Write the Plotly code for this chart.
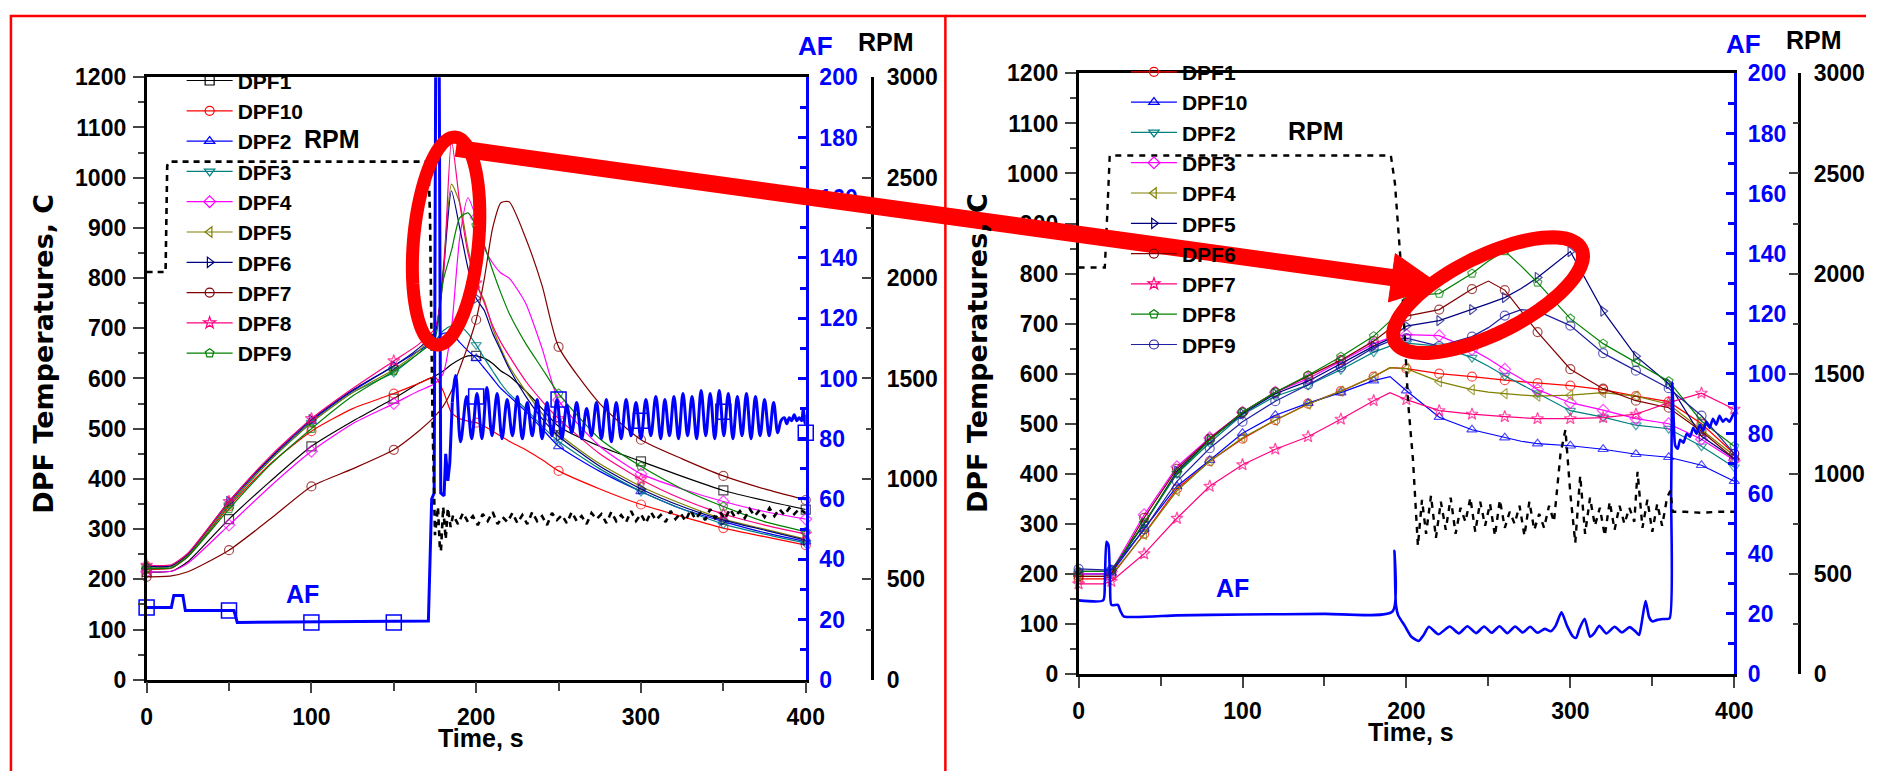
import math
import plotly.graph_objects as go

W, H = 1885, 771

# ---------------- data: left panel ----------------
tL = [0, 15, 25, 50, 75, 100, 125, 150, 165, 175, 180, 185, 190, 195, 200, 205, 210, 215, 220, 230,
      240, 250, 275, 300, 325, 350, 375, 400]
L_DPF1 = [215, 216, 235, 320, 395, 465, 515, 560, 590, 605, 615, 628, 638, 645, 645, 640, 630, 615, 605, 575, 540, 505, 465, 435, 405, 377, 357, 339]
L_DPF10 = [220, 222, 245, 345, 430, 495, 540, 570, 590, 603, 575, 532, 520, 515, 512, 505, 495, 485, 475, 458, 438, 416, 380, 349, 325, 302, 285, 268]
L_DPF2 = [225, 226, 248, 352, 440, 515, 575, 625, 655, 675, 690, 690, 672, 655, 640, 620, 600, 580, 565, 535, 500, 465, 415, 375, 340, 315, 293, 275]
L_DPF3 = [225, 226, 248, 348, 437, 512, 572, 612, 650, 675, 695, 705, 705, 690, 667, 640, 615, 590, 570, 540, 505, 475, 420, 375, 340, 310, 290, 272]
L_DPF4 = [215, 216, 232, 308, 385, 455, 510, 550, 575, 590, 610, 700, 880, 960, 920, 860, 830, 810, 800, 750, 660, 557, 465, 410, 380, 355, 335, 320]
L_DPF5 = [225, 226, 248, 350, 438, 513, 572, 618, 655, 690, 820, 987, 950, 860, 790, 755, 700, 660, 625, 575, 530, 490, 430, 385, 350, 320, 300, 280]
L_DPF6 = [226, 227, 250, 355, 442, 518, 577, 625, 660, 692, 810, 974, 900, 820, 760, 735, 690, 655, 620, 565, 520, 485, 425, 380, 345, 318, 298, 278]
L_DPF7 = [205, 207, 215, 258, 320, 385, 420, 458, 495, 525, 545, 575, 620, 665, 717, 800, 900, 950, 952, 880, 785, 663, 550, 478, 440, 406, 380, 358]
L_DPF8 = [228, 229, 252, 355, 445, 520, 580, 635, 668, 700, 800, 1075, 950, 850, 790, 750, 705, 672, 645, 595, 555, 520, 450, 399, 360, 330, 308, 290]
L_DPF9 = [222, 223, 245, 340, 428, 500, 565, 615, 650, 680, 795, 855, 920, 930, 905, 865, 815, 770, 730, 670, 620, 570, 480, 425, 380, 345, 315, 295]

af_l1_t = [0, 15, 16.5, 22, 23.5, 53, 55, 171, 173, 174.5, 175.5, 177.5, 178.5, 180.5, 181.5, 182.8, 184, 185.5]
af_l1_v = [24, 24, 28, 28, 23, 23, 19, 19.5, 60, 62, 215, 215, 62, 61, 75, 66, 72, 92]
af_l2_t = [185.5, 187.6, 190.5, 194.2, 197.3, 200.5, 203.5, 206.5, 209.6, 212.7, 215.7, 218.8, 222, 225, 228,
           231, 234, 237, 240, 243, 246, 249, 252, 255, 258, 261, 264, 267, 270, 273, 276, 279, 282, 285, 288,
           291, 294, 297, 300, 303, 306, 309, 312, 314.5, 317.3, 320, 322.8, 325.5, 328.3, 331, 333.8, 336.5,
           339.3, 342, 344.8, 347.5, 350.3, 353, 355.8, 358.5, 361.3, 364, 366.8, 369.5, 372.3, 375, 377.8,
           380.5, 383, 385, 387, 388.5, 390, 391.5, 393, 394.5, 396, 397.5, 398.5, 399.5, 400]
af_l2_v = [92, 101, 79, 94, 80, 95, 80, 97, 81, 95, 80, 93, 81, 94, 80, 92, 81, 93, 80, 92, 81, 93, 80, 91, 82,
           92, 80, 90, 81, 92, 80, 93, 79, 92, 80, 93, 81, 92, 80, 93, 81, 94, 80, 93, 81, 94, 80, 95, 81, 94,
           80, 96, 81, 95, 80, 96, 81, 95, 80, 94, 81, 95, 80, 94, 81, 93, 81, 92, 82, 86, 87, 85, 87, 86, 88,
           86, 87, 86, 90, 85, 88]
af_l_mark_t = [0, 50, 100, 150, 200, 250, 300, 350, 400]
af_l_mark_v = [24, 23, 19, 19, 94, 93, 86, 89, 82]

rpm_l_t = [0, 11.5, 12.5, 14, 171, 172, 173.5, 175, 176.8, 178, 178.6, 180, 181.5, 182.8, 184.5,
           186, 189, 192, 195, 198, 201, 204, 207, 210, 213, 216, 219, 222, 225, 228, 231, 234, 237, 240, 243,
           246, 249, 252, 255, 258, 261, 264, 267, 270, 273, 276, 279, 282, 285, 288, 291, 294, 297, 300, 303,
           306, 309, 312, 315, 318, 321, 324, 327, 330, 333, 336, 339, 342, 345, 348, 351, 354, 357, 360, 363,
           366, 369, 372, 375, 378, 381, 384, 387, 390, 393, 396, 400]
rpm_l_v = [2030, 2030, 2560, 2580, 2580, 2300, 1300, 720, 860, 650, 640, 860, 700, 855, 760,
           820, 775, 830, 785, 815, 770, 825, 790, 835, 775, 810, 785, 830, 780, 820, 775, 835, 790, 815, 770,
           830, 795, 820, 780, 835, 790, 815, 775, 830, 800, 825, 780, 835, 790, 820, 785, 840, 790, 825, 780,
           835, 795, 820, 785, 840, 800, 830, 790, 845, 800, 830, 795, 850, 805, 835, 800, 850, 810, 840, 805,
           850, 815, 845, 810, 855, 815, 850, 820, 855, 825, 850, 830]

# ---------------- data: right panel ----------------
tR = [0, 10, 15, 20, 40, 60, 80, 100, 120, 140, 160, 180, 190, 200, 220, 240, 250, 260, 270, 280,
      300, 320, 340, 360, 380, 400]
R_DPF1 = [190, 190, 190, 195, 280, 370, 425, 470, 507, 540, 565, 594, 612, 610, 600, 594, 590, 587, 584, 581, 576, 568, 555, 544, 500, 440]
R_DPF10 = [200, 200, 200, 202, 290, 375, 427, 481, 517, 541, 562, 586, 594, 566, 513, 488, 480, 472, 465, 460, 456, 449, 439, 433, 417, 385]
R_DPF2 = [200, 200, 200, 205, 300, 400, 462, 518, 555, 577, 608, 643, 655, 661, 655, 632, 615, 596, 578, 561, 526, 513, 497, 490, 455, 413]
R_DPF3 = [200, 200, 200, 205, 318, 414, 472, 523, 563, 590, 625, 660, 672, 678, 676, 648, 630, 609, 590, 568, 542, 527, 510, 500, 469, 427]
R_DPF4 = [195, 195, 195, 198, 279, 366, 425, 472, 507, 539, 565, 594, 612, 610, 584, 568, 563, 560, 557, 555, 557, 562, 555, 539, 488, 436]
R_DPF5 = [205, 205, 205, 207, 300, 405, 468, 520, 560, 585, 620, 655, 670, 695, 706, 728, 740, 752, 770, 792, 844, 725, 635, 580, 475, 430]
R_DPF6 = [195, 195, 195, 200, 312, 410, 470, 523, 563, 595, 627, 665, 690, 715, 728, 769, 785, 767, 725, 683, 609, 570, 546, 532, 485, 430]
R_DPF7 = [180, 180, 180, 185, 240, 311, 375, 418, 449, 474, 509, 546, 562, 548, 526, 519, 516, 514, 512, 510, 510, 512, 519, 542, 561, 529]
R_DPF8 = [205, 205, 205, 207, 302, 401, 467, 523, 563, 597, 634, 675, 705, 756, 760, 800, 825, 845, 815, 782, 710, 660, 622, 585, 505, 455]
R_DPF9 = [210, 208, 208, 208, 289, 385, 451, 504, 545, 578, 613, 652, 665, 671, 655, 674, 692, 716, 728, 725, 696, 641, 606, 571, 516, 440]

af_r_t = [0, 15, 16, 17, 18.2, 19.2, 20, 24, 25.5, 27.5, 60, 100, 150, 191.5, 192.7, 193.6, 195, 199, 203,
          207.5, 210.5, 213.7, 219.5, 226.4, 232, 237.2, 242.5, 247.4, 252, 256.8, 261.5, 266.3, 271, 275.5,
          280, 284.4, 288, 291, 294.6, 298, 301.5, 303.5, 305.5, 308.7, 312, 314.5, 317.6, 322, 327, 331.5,
          336.2, 340, 342, 343.5, 345.9, 348, 350, 353, 357, 360.5, 361.5, 362.2, 363, 364, 365.5, 367, 369,
          371, 373, 375, 377, 379, 381, 383, 385, 387, 389, 391, 393, 395, 397, 399, 400]
af_r_v = [24.5, 24.5, 30, 44, 43, 30, 23, 23, 21, 19.2, 19.5, 19.8, 20, 20.8, 41, 23, 19.5, 16, 12.4, 11,
          13, 15.7, 13.2, 15.8, 13.5, 15.9, 13.6, 15.8, 13.7, 15.9, 13.6, 15.8, 13.8, 15.7, 13.7, 15, 14.2,
          16, 20.5, 16, 12.5, 12, 15, 18.4, 12.4, 13.5, 16, 13.5, 15.7, 13.8, 15.6, 14, 13, 17, 24.3, 19, 17.5,
          18, 18.3, 18.5, 60, 97, 85, 76, 75, 78, 77, 80, 79, 82, 80, 83, 81, 84, 82, 85, 83, 86, 84, 85, 84,
          86, 87]

rpm_r_t = [0, 16, 17.5, 19, 190.5, 193, 197, 201, 204, 207, 209.5, 212, 215, 218, 221, 224, 227, 230, 233,
           236, 239, 242, 245, 248, 251, 254, 257, 260, 263, 266, 269, 272, 275, 278, 281, 284, 287, 290, 294,
           297, 300, 303, 306, 309, 312, 315, 318, 321, 324, 327, 330, 333, 336, 339, 341, 344, 347, 350, 353,
           356, 359, 361, 362.5, 370, 380, 390, 400]
rpm_r_v = [2030, 2030, 2300, 2590, 2590, 2450, 2000, 1360, 1070, 640, 870, 700, 890, 680, 860, 720, 880,
           700, 830, 760, 880, 710, 860, 740, 850, 690, 870, 730, 810, 750, 840, 690, 860, 720, 800, 730, 840,
           760, 1100, 1220, 900, 655, 990, 700, 880, 740, 830, 690, 860, 720, 840, 750, 830, 760, 1010, 730,
           870, 710, 850, 740, 880, 915, 810, 810, 805, 810, 810]

x_ticks = [0, 100, 200, 300, 400]
names = ["DPF1", "DPF10", "DPF2", "DPF3", "DPF4", "DPF5", "DPF6", "DPF7", "DPF8", "DPF9"]

# ---------------- styles ----------------
left_style = [("#000000", "square-open"), ("#ff0000", "circle-open"), ("#0000ff", "triangle-up-open"),
              ("#008080", "triangle-down-open"), ("#ff00ff", "diamond-open"), ("#808000", "triangle-left-open"),
              ("#000080", "triangle-right-open"), ("#800000", "circle-open"), ("#ff0080", "star-open"),
              ("#008000", "pentagon-open")]
right_style = [("#ff0000", "circle-open"), ("#0000ff", "triangle-up-open"), ("#008080", "triangle-down-open"),
               ("#ff00ff", "diamond-open"), ("#808000", "triangle-left-open"), ("#000080", "triangle-right-open"),
               ("#800000", "circle-open"), ("#ff0080", "star-open"), ("#008000", "pentagon-open"),
               ("#2020a0", "circle-open")]

NARROW = "Liberation Sans Narrow, Arial Narrow, Liberation Sans, Arial, sans-serif"
SANS = "Liberation Sans, Arial, sans-serif"
WIDE = "DejaVu Sans, Verdana, sans-serif"
BLUE = "#0000ff"


def px(x):
    return x / W


def py(y):
    return 1 - y / H


fig = go.Figure()


def add_panel_series(tvals, datasets, styles, xa, ya, legend, step):
    for nm, vals, (col, sym) in zip(names, datasets, styles):
        sizes = [9 if t % step == 0 else 0 for t in tvals]
        line = dict(color=col, width=1.2)
        if step == 50:
            line.update(shape="spline", smoothing=0.6)
        fig.add_trace(go.Scatter(x=tvals, y=vals, name=nm, mode="lines+markers", xaxis=xa, yaxis=ya,
                                 line=line, showlegend=False,
                                 marker=dict(symbol=sym, size=sizes, color=col, line=dict(color=col, width=1.2)),
                                 cliponaxis=False))
        # legend entry (no data of its own)
        fig.add_trace(go.Scatter(x=[None], y=[None], name=nm, mode="lines+markers", xaxis=xa, yaxis=ya,
                                 line=dict(color=col, width=1.2), legend=legend,
                                 marker=dict(symbol=sym, size=9, color=col, line=dict(color=col, width=1.2))))


add_panel_series(tL, [L_DPF1, L_DPF10, L_DPF2, L_DPF3, L_DPF4, L_DPF5, L_DPF6, L_DPF7, L_DPF8, L_DPF9],
                 left_style, "x", "y", "legend", 50)

fig.add_trace(go.Scatter(x=af_l1_t, y=af_l1_v, mode="lines", xaxis="x", yaxis="y2", showlegend=False,
                         line=dict(color=BLUE, width=3)))
fig.add_trace(go.Scatter(x=af_l2_t, y=af_l2_v, mode="lines", xaxis="x", yaxis="y2", showlegend=False,
                         line=dict(color=BLUE, width=3, shape="spline", smoothing=1.0)))
fig.add_trace(go.Scatter(x=af_l_mark_t, y=af_l_mark_v, mode="markers", xaxis="x", yaxis="y2", showlegend=False,
                         marker=dict(symbol="square-open", size=15, color=BLUE, line=dict(color=BLUE, width=1.5)),
                         cliponaxis=False))
fig.add_trace(go.Scatter(x=rpm_l_t, y=rpm_l_v, mode="lines", xaxis="x", yaxis="y3", showlegend=False,
                         line=dict(color="black", width=2.6, dash="6px,5px")))

add_panel_series(tR, [R_DPF1, R_DPF10, R_DPF2, R_DPF3, R_DPF4, R_DPF5, R_DPF6, R_DPF7, R_DPF8, R_DPF9],
                 right_style, "x2", "y4", "legend2", 20)

fig.add_trace(go.Scatter(x=af_r_t, y=af_r_v, mode="lines", xaxis="x2", yaxis="y5", showlegend=False,
                         line=dict(color=BLUE, width=2.6, shape="spline", smoothing=0.6)))
fig.add_trace(go.Scatter(x=rpm_r_t, y=rpm_r_v, mode="lines", xaxis="x2", yaxis="y6", showlegend=False,
                         line=dict(color="black", width=2.4, dash="6px,6px")))

tickfont = dict(family=NARROW, size=23, color="black", weight="bold")
bluefont = dict(family=NARROW, size=23, color=BLUE, weight="bold")

L_XDOM = [px(142.5), px(810.5)]
L_YDOM = [py(690), py(66.5)]
R_XDOM = [px(1087), px(1751.5)]
R_YDOM = [py(684), py(62.5)]


def xaxis(domain, anchor):
    return dict(domain=domain, anchor=anchor, range=[0, 400], tickvals=x_ticks, ticks="outside", ticklen=11,
                tickwidth=2, minor=dict(dtick=50, tick0=0, ticks="outside", ticklen=9, tickwidth=2),
                showline=True, linecolor="black", linewidth=2.5, mirror=True, showgrid=False, zeroline=False,
                tickfont=tickfont, ticklabelstandoff=4)


def temp_axis(domain, anchor):
    return dict(domain=domain, anchor=anchor, range=[0, 1200], dtick=100, ticks="outside", ticklen=11,
                tickwidth=2, minor=dict(dtick=50, ticks="outside", ticklen=6, tickwidth=2),
                showline=True, linecolor="black", linewidth=2.5, showgrid=False, zeroline=False,
                tickfont=tickfont, ticklabelstandoff=2)


def af_axis(overlay, anchor):
    return dict(overlaying=overlay, anchor=anchor, side="right", range=[0, 200], dtick=20, ticks="inside",
                ticklen=8, tickwidth=2.5, tickcolor=BLUE,
                minor=dict(dtick=10, ticks="inside", ticklen=6, tickwidth=2.5, tickcolor=BLUE),
                showline=True, linecolor=BLUE, linewidth=3, showgrid=False, zeroline=False,
                tickfont=bluefont, ticklabelstandoff=6)


def rpm_axis(overlay, pos):
    return dict(overlaying=overlay, anchor="free", position=pos, side="right", range=[0, 3000], dtick=500,
                ticks="inside", ticklen=10, tickwidth=2,
                minor=dict(dtick=250, ticks="inside", ticklen=6, tickwidth=2),
                showline=True, linecolor="black", linewidth=2.5, showgrid=False, zeroline=False,
                tickfont=tickfont, ticklabelstandoff=8)


def ellipse_path(cx, cy, a, b, phi_deg, n=90):
    ph = math.radians(phi_deg)
    pts = []
    for k in range(n + 1):
        th = 2 * math.pi * k / n
        x = cx + a * math.cos(th) * math.cos(ph) - b * math.sin(th) * math.sin(ph)
        y = cy + a * math.cos(th) * math.sin(ph) + b * math.sin(th) * math.cos(ph)
        pts.append((px(x), py(y)))
    return "M" + " L".join(f"{x:.5f},{y:.5f}" for x, y in pts) + " Z"


RED = "#ff0000"
shapes = [
    dict(type="rect", xref="paper", yref="paper", x0=px(5), x1=px(952), y0=py(800), y1=py(3),
         line=dict(color=RED, width=2.5), layer="above"),
    dict(type="line", xref="paper", yref="paper", x0=px(952), x1=px(1885), y0=py(3), y1=py(3),
         line=dict(color=RED, width=2.5), layer="above"),
    dict(type="path", xref="paper", yref="paper", path=ellipse_path(446, 236, 108, 33, -85),
         line=dict(color=RED, width=13), layer="above"),
    dict(type="path", xref="paper", yref="paper", path=ellipse_path(1502, 292, 106, 40, -27),
         line=dict(color=RED, width=14), layer="above"),
    dict(type="line", xref="paper", yref="paper", x0=px(456), y0=py(140), x1=px(1406), y1=py(274),
         line=dict(color=RED, width=17), layer="above"),
    dict(type="path", xref="paper", yref="paper",
         path=f"M{px(1408):.5f},{py(249):.5f} L{px(1454):.5f},{py(282):.5f} L{px(1401):.5f},{py(299):.5f} Z",
         fillcolor=RED, line=dict(color=RED, width=1), layer="above"),
]


def ann(text, x, y, size, color="black", family=SANS, angle=0):
    return dict(text=text, x=px(x), y=py(y), xref="paper", yref="paper", showarrow=False,
                xanchor="center", yanchor="middle", textangle=angle, borderpad=0,
                font=dict(family=family, size=size, color=color, weight="bold"))


annotations = [
    ann("DPF Temperatures, C", 38, 352, 27, family=WIDE, angle=-90),
    ann("DPF Temperatures, C", 984, 352, 27, family=WIDE, angle=-90),
    ann("Time, s", 481, 750, 25),
    ann("Time, s", 1424, 744, 25),
    ann("RPM", 330, 130, 25),
    ann("RPM", 1328, 122, 25),
    ann("AF", 300, 601, 25, color=BLUE),
    ann("AF", 1243, 595, 25, color=BLUE),
    ann("AF", 820, 34, 26, color=BLUE),
    ann("RPM", 892, 30, 25),
    ann("AF", 1761, 32, 26, color=BLUE),
    ann("RPM", 1832, 28, 25),
]

legend_common = dict(bgcolor="rgba(0,0,0,0)", borderwidth=0, itemsizing="trace", tracegroupgap=0,
                     font=dict(family=SANS, size=21, color="black", weight="bold"),
                     xanchor="left", yanchor="top", itemwidth=46)

fig.update_layout(
    width=W, height=H, autosize=False, margin=dict(l=0, r=0, t=0, b=0),
    paper_bgcolor="white", plot_bgcolor="rgba(0,0,0,0)",
    xaxis=xaxis(L_XDOM, "y"),
    yaxis=temp_axis(L_YDOM, "x"),
    yaxis2=af_axis("y", "x"),
    yaxis3=rpm_axis("y", px(878)),
    xaxis2=xaxis(R_XDOM, "y4"),
    yaxis4=temp_axis(R_YDOM, "x2"),
    yaxis5=af_axis("y4", "x2"),
    yaxis6=rpm_axis("y4", px(1817.5)),
    legend=dict(x=px(178), y=py(49), **legend_common),
    legend2=dict(x=px(1135), y=py(40), **legend_common),
    shapes=shapes,
    annotations=annotations,
    showlegend=True,
)

fig.write_html("out.html")
